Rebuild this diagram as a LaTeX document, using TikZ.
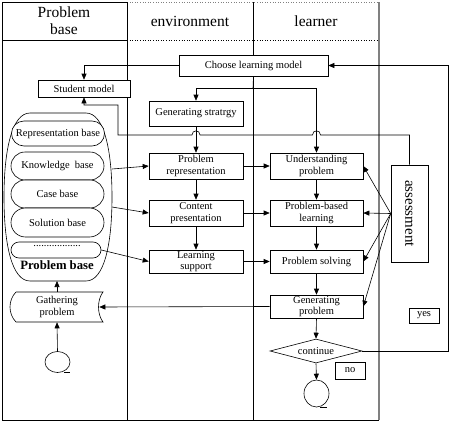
\documentclass[tikz,border=0pt]{standalone}
\usepackage{fontspec}
\setmainfont{Liberation Serif}
\usetikzlibrary{arrows.meta,shapes.misc,shapes.geometric}
\begin{document}
\begin{tikzpicture}[x=1pt,y=-1pt,line width=0.6pt,
  txt/.style={font=\fontsize{10.5}{11.5}\selectfont,align=center},
  hdr/.style={font=\fontsize{15.5}{17}\selectfont,align=center},
  box/.style={txt,draw,fill=white,inner sep=1pt},
  basebox/.style={txt,draw,fill=white,rounded rectangle,inner sep=1pt,minimum width=95,minimum height=28},
  arr/.style={-{Triangle[length=6pt,width=5pt]}},
  term/.style={draw,ellipse,inner sep=0pt}
]
\useasboundingbox (0,0) rectangle (450,423);
% swimlanes
\draw[line width=0.8pt] (2,420) -- (2,2) -- (127,2);
\draw[dotted,gray] (127,2) -- (379,2);
\draw (2,40) -- (127,40);
\draw[dotted] (127,40) -- (379,40);
\draw (127,2) -- (127,420);
\draw (253,2) -- (253,420);
\draw[gray,line width=1.3pt] (379,2) -- (379,420);
\draw (2,420) -- (379,420);
\node[hdr] (h1) at (64,21) {Problem\\base};
\node[hdr] (h2) at (190,21) {environment};
\node[hdr] (h3) at (316,21) {learner};

% problem base container
\draw (30,113) -- (86,113) .. controls (104,113) and (112,150) .. (112,197)
  .. controls (112,245) and (104,281) .. (86,281) -- (30,281)
  .. controls (12,281) and (4,245) .. (4,197) .. controls (4,150) and (12,113) .. (30,113);
\coordinate (pbbot) at (57,281);
\coordinate (k1) at (112,169);
\coordinate (k2) at (112,207);
\node[basebox,minimum height=25] (rep) at (58,133.5) {Representation base};
\node[basebox] (kno) at (57.5,166) {Knowledge\ \ base};
\node[basebox] (cas) at (57.5,194) {Case base};
\node[basebox,minimum height=29] (sol) at (57.5,222.5) {Solution base};
\node[basebox,minimum width=92,minimum height=16] (dots) at (56,250) {};
\node[txt,inner sep=0pt,anchor=base] (dt) at (57,246.5) {..................};
\node[font=\fontsize{12.7}{14}\selectfont\bfseries] (pbt) at (57,265) {Problem base};

% gathering problem
\draw (16,292) -- (103,292) .. controls (97,300) and (97,314) .. (103,322) -- (16,322)
  .. controls (8,314) and (8,300) .. (16,292);
\node[txt,minimum width=84,minimum height=30,inner sep=0pt] (gath) at (57,307) {Gathering\\problem};
\node[term,minimum width=25,minimum height=21] (start) at (57.5,362) {};
\draw (64,372) -- (70,372);

% environment / learner nodes
\node[box,minimum width=149,minimum height=21] (clm) at (253.5,65.5) {Choose learning model};
\node[box,minimum width=92,minimum height=17] (sm) at (84,88.5) {Student model};
\node[box,minimum width=94,minimum height=25] (gs) at (196,113.5) {Generating stratrgy};
\node[box,minimum width=94,minimum height=26] (pr) at (196,166) {Problem\\representation};
\node[box,minimum width=94,minimum height=26] (cp) at (196,213) {Content\\presentation};
\node[box,minimum width=94,minimum height=23] (ls) at (196,261.5) {Learning\\support};
\node[box,minimum width=93,minimum height=26] (up) at (316.5,166) {Understanding\\problem};
\node[box,minimum width=93,minimum height=26] (pbl) at (316.5,213) {Problem-based\\learning};
\node[box,minimum width=93,minimum height=23] (ps) at (316.5,261.5) {Problem solving};
\node[box,minimum width=93,minimum height=23] (gp) at (316.5,306.5) {Generating\\problem};
\node[txt,draw,diamond,aspect=3.8,minimum width=92,minimum height=24,inner sep=0pt] (cont) at (316,351) {continue};
\node[term,minimum width=25,minimum height=27] (fin) at (316.5,393.5) {};
\draw (320,407) -- (327,407);
\node[box,minimum width=30,minimum height=17] (no) at (350,370.5) {no};
\node[box,minimum width=30,minimum height=15] (yes) at (424,315.5) {yes};
\node[draw,fill=white,minimum width=37,minimum height=97,inner sep=0pt] (assess) at (409.5,213.5) {};
\node[font=\fontsize{15}{17}\selectfont,rotate=-90] (at) at (assess.center) {assessment};

% connectors
\draw[arr] (clm.west) -| (sm.north);
\coordinate (split) at (253,88);
\draw (clm.south) -- (split);
\draw[arr] (split) -| (gs.north);
\draw[arr] (split) -| (up.north);
\draw[arr] (assess.north) |- (320.5,135) .. controls (320.5,129.5) and (312.5,129.5) .. (312.5,135)
  -- (200,135) .. controls (200,129.5) and (192,129.5) .. (192,135) -- (118,135) -- (118,105) -| (sm.south);
\draw[arr] (gs.south) -- (pr.north);
\draw[arr] (pr.south) -- (cp.north);
\draw[arr] (cp.south) -- (ls.north);
\draw[arr] (up.south) -- (pbl.north);
\draw[arr] (pbl.south) -- (ps.north);
\draw[arr] (ps.south) -- (gp.north);
\draw[arr] (gp.south) -- (cont.north);
\draw[arr] (cont.south) -- (fin.north);
\draw[arr] (pr.east) -- (up.west);
\draw[arr] (cp.east) -- (pbl.west);
\draw[arr] (ls.east) -- (ps.west);
\draw[arr] (k1) -- (pr.west);
\draw[arr] (k2) -- (cp.west);
\draw[arr] (dots.east) -- (ls.west);
\draw[arr] (assess.west) -- (up.east);
\draw[arr] (assess.west) -- (pbl.east);
\draw[arr] (assess.west) -- (ps.east);
\draw[arr] (assess.west) -- (gp.east);
\draw[arr] (gp.west) -- (gath.east);
\draw[arr] (start.north) -- (gath.south);
\draw[arr] (gath.north) -- (pbbot);
\draw[arr] (cont.east) -- (448,351) |- (clm.east);
\end{tikzpicture}
\end{document}
